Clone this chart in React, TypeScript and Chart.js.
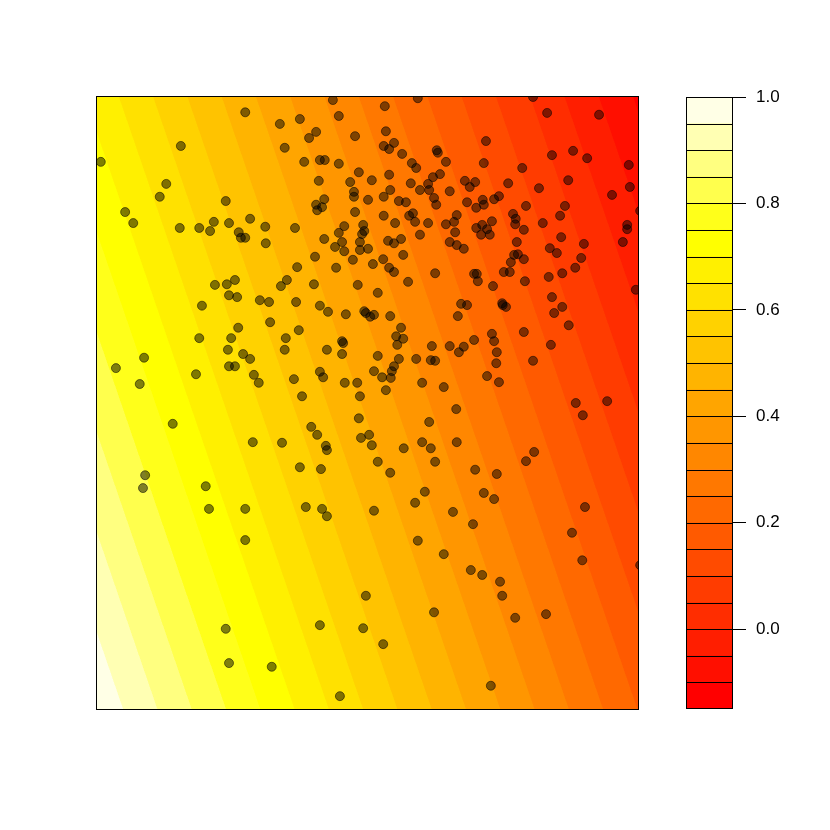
import React, { useEffect, useRef } from "react";
import { Chart, registerables } from "chart.js";

Chart.register(...registerables);

// Scatter points (x, y in plot units 0..100)
const pointX = [
  27.4, 33.8, 15.5, 0.7, 12.8, 11.6, 23.8, 5.2, 6.7, 21.6,
  24.4, 28.3, 15.3, 18.9, 20.9, 31.1, 26.2, 26.6, 27.4, 31.2,
  43.6, 59.3, 53.2, 37.5, 44.7, 40.5, 39.2, 47.7, 53.4, 34.7,
  53.0, 54.0, 54.9, 56.4, 62.8, 63.0, 64.5, 38.3, 41.2, 42.1,
  44.7, 58.2, 59.0, 48.4, 54.0, 50.8, 41.0, 46.8, 58.0, 62.1,
  63.4, 61.2, 59.7, 61.4, 65.2, 54.2, 47.5, 47.5, 42.0, 40.5,
  41.6, 40.7, 50.1, 53.0, 55.8, 57.1, 62.3, 62.7, 47.7, 53.0,
  55.1, 57.7, 58.4, 58.8, 61.2, 64.5, 66.0, 66.5, 66.2, 36.6,
  45.7, 49.2, 49.4, 49.0, 44.7, 42.0, 45.3, 48.6, 44.0, 45.7,
  48.6, 50.1, 53.8, 54.9, 56.2, 59.7, 65.2, 66.5, 40.3, 56.6,
  47.3, 52.9, 80.6, 83.2, 92.8, 71.9, 88.0, 84.1, 90.6, 98.3,
  71.5, 78.6, 87.1, 68.0, 69.9, 68.9, 76.0, 81.7, 98.5, 95.2,
  74.3, 73.4, 71.3, 71.5, 68.4, 70.1, 79.3, 86.5, 85.6, 76.9,
  77.4, 77.3, 82.4, 78.9, 73.0, 71.2, 72.1, 70.1, 71.0,
  72.6, 67.8, 85.8, 77.6, 90.0, 98.0, 98.0, 97.2, 83.7, 85.0,
  77.1, 77.8, 78.9, 89.5, 100.4, 76.5, 75.2, 76.3, 69.7, 70.2,
  70.4, 73.2, 79.1, 83.5, 86.0, 88.4, 99.6, 67.3, 68.4, 66.7,
  74.9, 75.0, 75.6, 84.1, 86.0, 84.5, 87.2, 73.0, 73.4, 78.9,
  69.7, 67.8, 66.9, 73.9, 83.9, 73.8, 80.6, 72.1, 74.3, 88.5,
  94.3, 89.8, 66.4, 51.0, 37.0, 44.2, 54.0, 54.9, 62.5, 57.5,
  35.1, 34.0, 40.1, 48.2, 51.9, 36.8, 41.2, 42.7, 46.0, 49.4,
  49.7, 50.5, 51.2, 54.2, 56.2, 55.3, 56.6, 55.5, 32.0, 34.9,
  37.3, 34.7, 42.5, 45.3, 45.5, 45.3, 51.9, 51.2, 52.7, 54.3,
  54.5, 54.9, 55.8, 59.0, 61.9, 61.7, 62.5, 65.2, 41.2, 41.8,
  36.4, 45.8, 48.1, 37.9, 48.6, 53.4, 60.1, 64.1, 48.4, 61.4,
  21.8, 24.0, 25.5, 24.4, 25.9, 30.1, 31.8, 19.4, 26.1, 24.8,
  18.9, 24.2, 27.0, 28.3, 24.4, 25.5, 8.7, 3.5, 7.9, 18.3,
  29.0, 29.9, 14.0, 28.8, 34.2, 39.6, 40.7, 42.3, 42.5, 48.8,
  50.3, 50.8, 37.5, 41.4, 8.9, 8.5, 20.1, 20.7, 27.4, 38.6,
  41.6, 42.5, 27.4, 51.2, 56.7, 60.1, 61.7, 66.5, 51.9, 54.2,
  62.5, 69.9, 73.9, 80.8, 79.3, 60.6, 58.8, 71.5, 73.4, 65.8,
  69.5, 90.2, 87.8, 59.3, 64.1, 89.7, 100.4, 69.1, 71.2, 74.5,
  74.9, 77.3, 83.0, 62.3, 49.7, 49.2, 52.9, 72.8, 23.8, 24.4,
  32.3, 41.2, 44.9,
];

const pointY = [
  97.5, 95.6, 92.0, 89.4, 85.8, 83.7, 83.0, 81.2, 79.4, 79.6,
  79.4, 80.1, 78.6, 78.6, 78.1, 78.8, 77.9, 77.0, 77.0, 76.1,
  99.5, 99.8, 98.5, 96.4, 96.9, 94.3, 93.3, 93.6, 94.4, 91.7,
  92.0, 91.5, 92.5, 90.7, 91.3, 90.9, 89.4, 89.4, 89.7, 89.7,
  89.1, 89.2, 88.4, 87.7, 87.3, 86.4, 86.3, 86.1, 85.9, 86.9,
  87.4, 85.8, 84.8, 84.8, 84.6, 84.8, 84.5, 83.7, 83.3, 82.4,
  82.0, 81.5, 83.2, 83.7, 83.0, 82.8, 83.5, 82.4, 81.2, 80.6,
  79.4, 80.6, 81.0, 79.6, 79.4, 79.2, 79.6, 80.7, 77.9, 78.6,
  78.9, 79.1, 78.1, 77.6, 77.8, 76.8, 76.3, 76.3, 75.5, 74.8,
  75.0, 75.2, 76.5, 76.1, 76.8, 77.5, 76.3, 75.8, 73.9, 74.2,
  73.4, 73.5, 100.0, 97.4, 97.1, 92.8, 91.2, 90.5, 90.0, 88.9,
  89.2, 88.4, 86.4, 86.3, 86.1, 85.3, 85.9, 85.1, 85.3, 84.0,
  83.8, 83.3, 83.2, 82.4, 82.8, 81.9, 82.2, 82.2, 80.6, 80.9,
  80.1, 79.2, 79.4, 78.3, 79.7, 79.1, 78.4, 78.6, 77.5,
  77.5, 75.2, 77.1, 76.3, 76.0, 79.1, 78.4, 76.3, 75.3, 74.5,
  74.2, 74.3, 73.5, 73.7, 81.4, 73.0, 71.4, 71.4, 71.1, 71.1,
  69.9, 69.1, 69.9, 70.6, 71.2, 72.1, 68.5, 66.2, 66.0, 64.2,
  66.3, 66.0, 65.7, 67.3, 65.7, 64.7, 62.7, 61.3, 60.1, 61.6,
  60.3, 59.2, 58.3, 58.3, 59.5, 56.5, 56.9, 54.4, 53.4, 50.0,
  50.3, 48.0, 49.0, 72.7, 72.2, 72.1, 72.1, 71.4, 71.2, 69.8,
  70.1, 69.1, 69.4, 69.3, 68.0, 66.5, 65.9, 64.9, 64.5, 65.0,
  64.7, 64.1, 64.4, 64.2, 62.3, 60.9, 60.5, 59.5, 63.2, 60.6,
  61.9, 58.7, 58.7, 60.1, 59.8, 58.0, 57.7, 55.2, 54.2, 54.1,
  55.2, 56.0, 57.2, 57.2, 59.3, 57.0, 56.9, 59.3, 55.1, 54.2,
  53.9, 53.3, 53.3, 51.1, 51.1, 52.1, 53.3, 52.6, 47.5, 46.9,
  69.3, 69.4, 70.1, 67.6, 67.3, 66.8, 66.5, 65.9, 62.3, 60.6,
  60.6, 58.7, 58.0, 57.2, 56.0, 56.0, 57.4, 55.7, 53.1, 54.7,
  54.6, 53.3, 46.6, 43.6, 43.5, 46.1, 44.8, 43.0, 42.3, 44.3,
  44.8, 43.1, 39.5, 39.2, 38.2, 36.1, 36.4, 32.7, 32.7, 33.0,
  32.7, 31.5, 27.6, 32.4, 42.6, 43.6, 42.6, 43.6, 40.4, 38.6,
  40.4, 39.1, 38.4, 42.0, 40.5, 35.5, 33.7, 35.3, 34.3, 32.2,
  30.2, 33.0, 28.8, 27.5, 25.3, 24.3, 23.5, 22.7, 21.9, 20.8,
  18.5, 14.9, 15.5, 15.8, 18.5, 13.2, 10.6, 3.8, 13.1, 7.5,
  6.9, 13.7, 2.1,
];

// Surface values on a coarse grid (rows = fieldY, columns = fieldX)
const fieldX = [0, 100];
const fieldY = [0, 100];
const fieldZ = [
  [0.988, 0.199],
  [0.682, -0.107],
];

// Contour levels and fill colours (heat.colors(23))
const levels = [
  -0.15, -0.1, -0.05, 0.0, 0.05, 0.1, 0.15, 0.2, 0.25, 0.3, 0.35, 0.4,
  0.45, 0.5, 0.55, 0.6, 0.65, 0.7, 0.75, 0.8, 0.85, 0.9, 0.95, 1.0,
];
const bandColors = [
  "#FF0000", "#FF0F00", "#FF1E00", "#FF2D00", "#FF3C00", "#FF4B00",
  "#FF5A00", "#FF6900", "#FF7800", "#FF8700", "#FF9600", "#FFA500",
  "#FFB400", "#FFC300", "#FFD200", "#FFE100", "#FFF000", "#FFFF00",
  "#FFFF1A", "#FFFF4D", "#FFFF80", "#FFFFB3", "#FFFFE6",
];
const keyTicks = [0.0, 0.2, 0.4, 0.6, 0.8, 1.0];

function fieldValue(x: number, y: number): number {
  let i = 0;
  while (i < fieldX.length - 2 && x > fieldX[i + 1]) i++;
  let j = 0;
  while (j < fieldY.length - 2 && y > fieldY[j + 1]) j++;
  const tx = (x - fieldX[i]) / (fieldX[i + 1] - fieldX[i]);
  const ty = (y - fieldY[j]) / (fieldY[j + 1] - fieldY[j]);
  const z00 = fieldZ[j][i];
  const z10 = fieldZ[j][i + 1];
  const z01 = fieldZ[j + 1][i];
  const z11 = fieldZ[j + 1][i + 1];
  return (
    z00 * (1 - tx) * (1 - ty) +
    z10 * tx * (1 - ty) +
    z01 * (1 - tx) * ty +
    z11 * tx * ty
  );
}

function bandIndex(z: number): number {
  for (let k = 0; k < levels.length - 1; k++) {
    if (z < levels[k + 1]) return k;
  }
  return levels.length - 2;
}

function hexToRgb(hex: string): number[] {
  return [
    parseInt(hex.slice(1, 3), 16),
    parseInt(hex.slice(3, 5), 16),
    parseInt(hex.slice(5, 7), 16),
  ];
}

const fieldPlugin = {
  id: "filledContour",
  beforeDatasetsDraw(chart: any) {
    const { ctx, chartArea: a, scales } = chart;
    const w = Math.round(a.right - a.left);
    const h = Math.round(a.bottom - a.top);
    const off = document.createElement("canvas");
    off.width = w;
    off.height = h;
    const octx = off.getContext("2d")!;
    const img = octx.createImageData(w, h);
    const rgb = bandColors.map(hexToRgb);
    const sub = [0.25, 0.75];
    const xs = scales.x;
    const ys = scales.y;
    for (let j = 0; j < h; j++) {
      for (let i = 0; i < w; i++) {
        let r = 0, g = 0, b = 0;
        for (const sy of sub) {
          const yv = ys.getValueForPixel(a.top + j + sy);
          for (const sx of sub) {
            const xv = xs.getValueForPixel(a.left + i + sx);
            const c = rgb[bandIndex(fieldValue(xv, yv))];
            r += c[0];
            g += c[1];
            b += c[2];
          }
        }
        const p = (j * w + i) * 4;
        img.data[p] = r / 4;
        img.data[p + 1] = g / 4;
        img.data[p + 2] = b / 4;
        img.data[p + 3] = 255;
      }
    }
    octx.putImageData(img, 0, 0);
    ctx.save();
    ctx.drawImage(off, a.left, a.top, w, h);
    ctx.restore();
  },
  afterDatasetsDraw(chart: any) {
    const { ctx, chartArea: a } = chart;
    ctx.save();
    ctx.strokeStyle = "#000";
    ctx.lineWidth = 1;
    ctx.strokeRect(a.left - 0.5, a.top - 0.5, a.right - a.left + 1, a.bottom - a.top + 1);
    ctx.restore();
  },
};

// Draws the band separators and frame of the colour key through its y scale
const keyLinesPlugin = {
  id: "keyLines",
  afterDatasetsDraw(chart: any) {
    const { ctx, chartArea: a, scales } = chart;
    ctx.save();
    ctx.strokeStyle = "#000";
    ctx.lineWidth = 1;
    ctx.beginPath();
    for (const lv of levels) {
      let y = Math.round(scales.y.getPixelForValue(lv));
      y = Math.min(Math.max(y, Math.round(a.top)), Math.round(a.bottom) - 1);
      ctx.moveTo(a.left, y + 0.5);
      ctx.lineTo(a.right, y + 0.5);
    }
    ctx.moveTo(Math.round(a.left) + 0.5, a.top);
    ctx.lineTo(Math.round(a.left) + 0.5, a.bottom);
    ctx.moveTo(Math.round(a.right) - 0.5, a.top);
    ctx.lineTo(Math.round(a.right) - 0.5, a.bottom);
    ctx.stroke();
    ctx.restore();
  },
};

export default function App() {
  const mainRef = useRef<HTMLCanvasElement>(null);
  const keyRef = useRef<HTMLCanvasElement>(null);

  useEffect(() => {
    const mainChart = new Chart(mainRef.current!, {
      type: "scatter",
      data: {
        datasets: [
          {
            data: pointX.map((x, i) => ({ x, y: pointY[i] })),
            pointRadius: 4.5,
            pointBackgroundColor: "rgba(0,0,0,0.5)",
            pointBorderColor: "rgba(0,0,0,0.5)",
            pointBorderWidth: 1,
            clip: 0,
          } as any,
        ],
      },
      options: {
        responsive: false,
        animation: false,
        events: [],
        layout: { padding: { left: 97, top: 97, right: 22, bottom: 121 } },
        scales: {
          x: { type: "linear", min: 0, max: 100, display: false },
          y: { type: "linear", min: 0, max: 100, display: false },
        },
        plugins: { legend: { display: false }, tooltip: { enabled: false } },
      },
      plugins: [fieldPlugin],
    });

    const keyChart = new Chart(keyRef.current!, {
      type: "bar",
      data: {
        labels: ["key"],
        datasets: bandColors.map((c, k) => ({
          data: [[levels[k], levels[k + 1]]],
          backgroundColor: c,
          borderWidth: 0,
          grouped: false,
          barPercentage: 1,
          categoryPercentage: 1,
        })) as any,
      },
      options: {
        responsive: false,
        animation: false,
        events: [],
        layout: { padding: { left: 26, top: 97, right: 0, bottom: 121 } },
        scales: {
          x: { display: false },
          y: {
            position: "right",
            min: levels[0],
            max: levels[levels.length - 1],
            afterFit: (s: any) => {
              s.width = 97;
            },
            afterBuildTicks: (s: any) => {
              s.ticks = keyTicks.map((v) => ({ value: v }));
            },
            grid: {
              drawOnChartArea: false,
              drawTicks: true,
              tickLength: 13,
              color: "#000",
              lineWidth: 1,
            },
            border: { display: false },
            ticks: {
              padding: 10,
              color: "#000",
              font: { family: "'Liberation Sans', Arial, sans-serif", size: 17 },
              callback: (v: any) => Number(v).toFixed(1),
            },
          },
        },
        plugins: { legend: { display: false }, tooltip: { enabled: false } },
      } as any,
      plugins: [keyLinesPlugin],
    });

    return () => {
      mainChart.destroy();
      keyChart.destroy();
    };
  }, []);

  return (
    <div
      style={{
        position: "absolute",
        left: 0,
        top: 0,
        width: 830,
        height: 830,
        background: "#fff",
      }}
    >
      <canvas
        ref={mainRef}
        width={660}
        height={830}
        style={{ position: "absolute", left: 0, top: 0, width: 660, height: 830 }}
      />
      <canvas
        ref={keyRef}
        width={170}
        height={830}
        style={{ position: "absolute", left: 660, top: 0, width: 170, height: 830 }}
      />
    </div>
  );
}
